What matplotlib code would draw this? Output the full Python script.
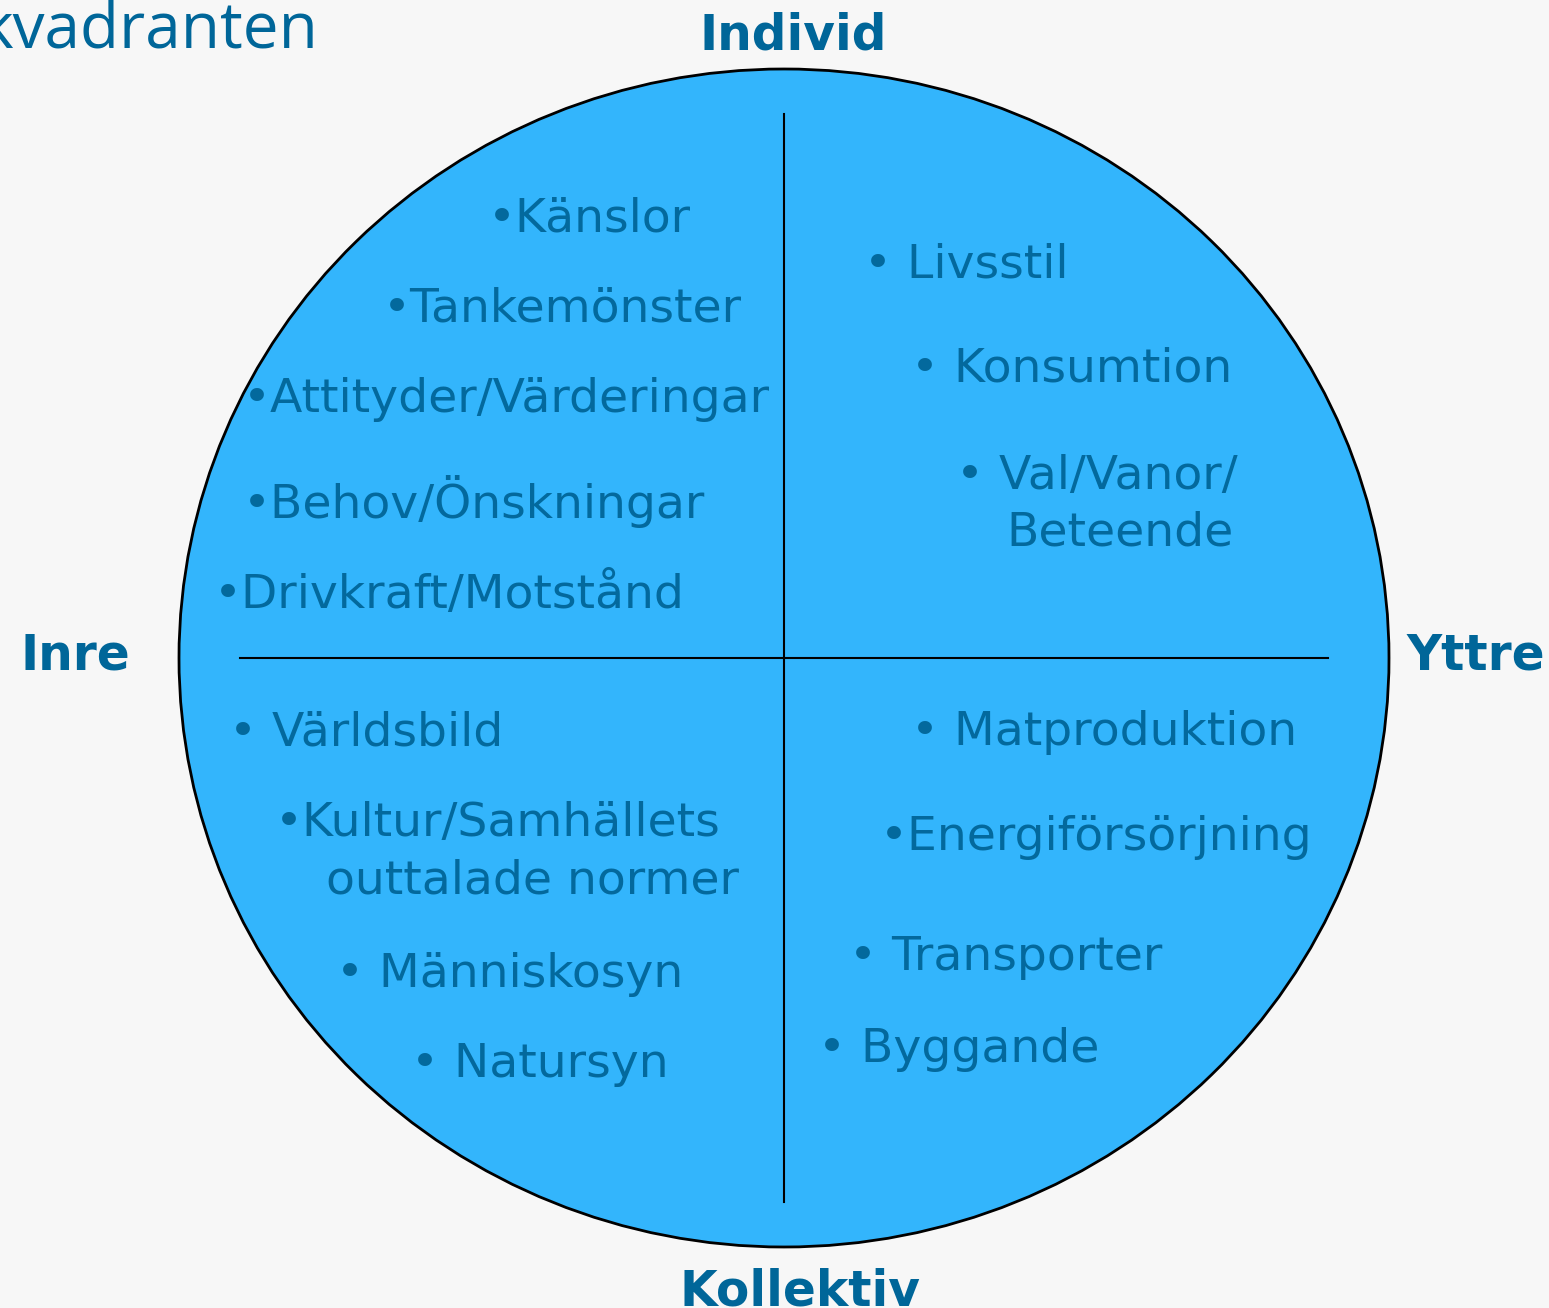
import matplotlib
matplotlib.use("Agg")
import matplotlib.pyplot as plt
from matplotlib.patches import Ellipse

# ---- content ----
title = "kvadranten"
axis_labels = ["Individ", "Inre", "Yttre", "Kollektiv"]
upper_left = ["•Känslor", "•Tankemönster", "•Attityder/Värderingar",
              "•Behov/Önskningar", "•Drivkraft/Motstånd"]
upper_right = ["• Livsstil", "• Konsumtion", "• Val/Vanor/", "Beteende"]
lower_left = ["• Världsbild", "•Kultur/Samhällets", "outtalade normer",
              "• Människosyn", "• Natursyn"]
lower_right = ["• Matproduktion", "•Energiförsörjning", "• Transporter",
               "• Byggande"]

# ---- layout (pixel coordinates) ----
W, H = 1549, 1308
ul_pos = [(488, 231), (383, 322), (243, 412), (243, 518), (214, 608)]
ur_pos = [(864, 277), (911, 382), (956, 489), (1006, 545)]
ll_pos = [(229, 745), (275, 836), (326, 893), (336, 987), (411, 1077)]
lr_pos = [(911, 745), (880, 850), (849, 970), (818, 1062)]
label_pos = [(793, 50, "center"), (75, 670, "center"),
             (1476, 670, "center"), (800, 1305, "center")]

bg = "#f7f7f7"
fill = "#33b5fc"
txt = "#03699d"
lab = "#006699"

fig = plt.figure(figsize=(W / 100, H / 100), dpi=100, facecolor=bg)
ax = fig.add_axes([0, 0, 1, 1])
ax.set_xlim(0, W)
ax.set_ylim(H, 0)
ax.axis("off")
ax.set_facecolor(bg)

ax.add_patch(Ellipse((784, 658), 1210, 1178, facecolor=fill,
                     edgecolor="black", linewidth=2, zorder=1))
ax.plot([784, 784], [114, 1202], color="black", lw=1.5, zorder=2)
ax.plot([240, 1328], [658, 658], color="black", lw=1.5, zorder=2)

fs = 34
for items, pos in [(upper_left, ul_pos), (upper_right, ur_pos),
                   (lower_left, ll_pos), (lower_right, lr_pos)]:
    for s, (x, y) in zip(items, pos):
        ax.text(x, y, s, fontsize=fs, color=txt, ha="left", va="baseline",
                family="DejaVu Sans", zorder=3)

for s, (x, y, ha) in zip(axis_labels, label_pos):
    ax.text(x, y, s, fontsize=35, color=lab, ha=ha, va="baseline",
            fontweight="bold", family="DejaVu Sans", zorder=3)

ax.text(318, 48, title, fontsize=46, color=lab, ha="right", va="baseline",
        family="Open Sans", zorder=3)

fig.savefig("out.png", dpi=100, facecolor=bg)
